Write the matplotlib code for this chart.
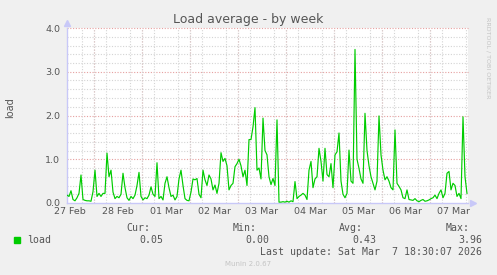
import matplotlib
matplotlib.use("Agg")
import matplotlib.pyplot as plt
import matplotlib.dates as mdates
import pandas as pd

# hourly load samples, 27 Feb 10:30 -> 07 Mar 18:30
start = "2026-02-27 10:30"
load = [
    0.18, 0.15, 0.28, 0.08, 0.05, 0.12, 0.22, 0.64, 0.08, 0.06,
    0.05, 0.05, 0.04, 0.26, 0.75, 0.15, 0.22, 0.15, 0.22, 0.22,
    1.14, 0.60, 0.75, 0.25, 0.10, 0.15, 0.12, 0.20, 0.68, 0.35,
    0.12, 0.06, 0.15, 0.10, 0.18, 0.40, 0.70, 0.15, 0.07, 0.12,
    0.10, 0.18, 0.37, 0.20, 0.15, 0.92, 0.10, 0.15, 0.07, 0.45,
    0.60, 0.35, 0.15, 0.18, 0.07, 0.15, 0.55, 0.75, 0.40, 0.10,
    0.06, 0.05, 0.25, 0.55, 0.53, 0.56, 0.20, 0.12, 0.75, 0.53,
    0.40, 0.64, 0.55, 0.30, 0.41, 0.22, 0.45, 1.15, 0.95, 1.02,
    0.85, 0.30, 0.40, 0.45, 0.83, 0.90, 1.00, 0.85, 0.60, 0.75,
    0.40, 1.45, 1.45, 1.74, 2.18, 0.75, 0.80, 0.55, 1.94, 1.20,
    1.10, 0.60, 0.42, 0.56, 0.40, 1.90, 0.02, 0.02, 0.03, 0.02,
    0.04, 0.02, 0.05, 0.03, 0.49, 0.10, 0.15, 0.18, 0.22, 0.18,
    0.08, 0.75, 0.95, 0.35, 0.55, 0.60, 1.25, 0.95, 0.50, 1.25,
    0.65, 0.60, 0.90, 0.35, 1.10, 1.17, 1.60, 0.50, 0.20, 0.12,
    0.22, 1.21, 0.50, 0.45, 3.51, 1.00, 0.79, 0.55, 0.45, 2.05,
    1.20, 0.85, 0.60, 0.45, 0.30, 0.50, 1.99, 1.10, 0.75, 0.53,
    0.60, 0.50, 0.35, 0.30, 1.67, 0.45, 0.38, 0.30, 0.12, 0.10,
    0.30, 0.08, 0.07, 0.06, 0.10, 0.05, 0.03, 0.06, 0.08, 0.04,
    0.05, 0.07, 0.10, 0.12, 0.18, 0.10, 0.22, 0.30, 0.12, 0.22,
    0.68, 0.72, 0.30, 0.45, 0.40, 0.15, 0.22, 0.10, 1.97, 0.60,
    0.22,
]
day_labels = ["27 Feb", "28 Feb", "01 Mar", "02 Mar", "03 Mar",
              "04 Mar", "05 Mar", "06 Mar", "07 Mar"]
y_ticks = [0.0, 1.0, 2.0, 3.0, 4.0]
stat_names = ["Cur:", "Min:", "Avg:", "Max:"]
stat_values = ["0.05", "0.00", "0.43", "3.96"]
last_update = "Last update: Sat Mar  7 18:30:07 2026"

W, H = 497, 275
BG = "#f0f0f0"
TXT = "#555555"
AXC = "#c8c8f8"

times = pd.date_range(start, periods=len(load), freq="h")


def px(x, y):
    return x / W, 1 - y / H


fig = plt.figure(figsize=(W / 100, H / 100), dpi=100, facecolor=BG)
ax = fig.add_axes([67 / W, (H - 203) / H, 401 / W, 175 / H])
ax.set_facecolor("white")

ax.plot(times, load, color="#00cc00", lw=0.85, zorder=5)

ax.set_xlim(times[0], times[-1] + pd.Timedelta(minutes=30))
ax.set_ylim(0, 4)

# grid: minor gray every 6h / 0.2, major red every day / 1.0
ax.xaxis.set_minor_locator(mdates.HourLocator(byhour=[0, 6, 12, 18]))
ax.set_yticks([i * 0.2 for i in range(21)], minor=True)
ax.grid(which="minor", color="#d4d4d4", linestyle=(0, (1, 1.5)), lw=0.8)
for d in pd.date_range("2026-02-28", "2026-03-07", freq="D"):
    ax.axvline(d, color="#e6a0a0", linestyle=(0, (1, 1.5)), lw=0.8, zorder=1)
for v in y_ticks[1:]:
    ax.axhline(v, color="#e6a0a0", linestyle=(0, (1, 1.5)), lw=0.8, zorder=1, clip_on=False)

ax.set_xticks(pd.date_range("2026-02-27 12:00", periods=len(day_labels), freq="D"))
ax.set_xticklabels(day_labels)
ax.set_yticks(y_ticks)
ax.set_yticklabels([f"{v:.1f}" for v in y_ticks])
ax.tick_params(which="both", length=0, labelsize=6.8, labelcolor=TXT)
ax.tick_params(axis="x", pad=3)
ax.tick_params(axis="y", pad=5)

for s in ["top", "right"]:
    ax.spines[s].set_visible(False)
for s in ["left", "bottom"]:
    ax.spines[s].set_color(AXC)
    ax.spines[s].set_linewidth(1.0)
ax.plot(0, 1.03, marker="^", ms=4, color=AXC, transform=ax.transAxes, clip_on=False)
ax.plot(1.012, 0, marker=">", ms=4, color=AXC, transform=ax.transAxes, clip_on=False)

fig.text(*px(248, 19), "Load average - by week", ha="center", va="center",
         fontsize=9, color=TXT)
fig.text(*px(10, 108), "load", ha="center", va="center", rotation=90,
         fontsize=7, color=TXT)
fig.text(*px(488, 58), "RRDTOOL / TOBI OETIKER", ha="center", va="center",
         rotation=270, fontsize=4.6, color="#c4c4c4")

mono = dict(family="DejaVu Sans Mono", fontsize=7.1, color=TXT)
name_right = [150, 257, 363, 470]
val_right = [163, 269, 376, 482]
for name, val, xn, xv in zip(stat_names, stat_values, name_right, val_right):
    fig.text(*px(xn, 228), name, ha="right", va="center", **mono)
    fig.text(*px(xv, 240), val, ha="right", va="center", **mono)
fig.patches.append(plt.Rectangle(px(14, 243), 6 / W, 6 / H, color="#00cc00",
                                 transform=fig.transFigure, figure=fig))
fig.text(*px(27, 240), "load", ha="left", va="center", **mono)
fig.text(*px(482, 252), last_update, ha="right", va="center", **mono)
fig.text(*px(248, 264), "Munin 2.0.67", ha="center", va="center",
         fontsize=5, color="#c4c4c4")

fig.savefig("out.png", dpi=100, facecolor=BG)
